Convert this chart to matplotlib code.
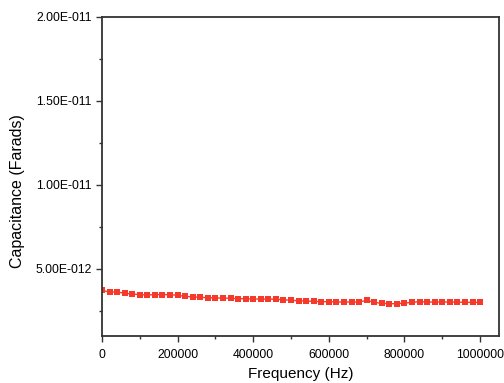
import matplotlib
matplotlib.use("Agg")
import matplotlib.pyplot as plt
from matplotlib.ticker import FuncFormatter, MultipleLocator

plt.rcParams['font.family'] = ['Liberation Sans', 'DejaVu Sans']

freq = [i * 20000 for i in range(51)]
cap_e12 = [3.71, 3.62, 3.62, 3.54, 3.50, 3.46, 3.44, 3.46, 3.46, 3.46,
           3.42, 3.36, 3.32, 3.30, 3.28, 3.26, 3.26, 3.24, 3.22, 3.22,
           3.20, 3.20, 3.20, 3.18, 3.16, 3.12, 3.10, 3.08, 3.06, 3.04,
           3.04, 3.02, 3.02, 3.02, 3.02, 3.12, 3.00, 2.94, 2.92, 2.92,
           2.96, 3.00, 3.04, 3.02, 3.02, 3.02, 3.02, 3.02, 3.00, 3.00, 3.00]
cap = [v * 1e-12 for v in cap_e12]

def sci_fmt(v, pos):
    if v == 0:
        return "0"
    s = "%.2E" % v
    mant, exp = s.split("E")
    e = int(exp)
    return "%sE%s%03d" % (mant, "-" if e < 0 else "", abs(e))

fig = plt.figure(figsize=(5.04, 3.83), dpi=100)
ax = fig.add_axes([102/504, 1 - 336/383, (499-102)/504, (336-16.5)/383])
ax.plot(freq, cap, '-', color='#F5392A', lw=1.0, marker='s', markersize=4.3,
        markeredgewidth=0, markerfacecolor='#F5392A')
ax.set_xlim(0, 1.05e6)
ax.set_ylim(1e-12, 2e-11)
ax.xaxis.set_major_locator(MultipleLocator(200000))
ax.xaxis.set_minor_locator(MultipleLocator(100000))
ax.yaxis.set_major_locator(MultipleLocator(5e-12))
ax.yaxis.set_minor_locator(MultipleLocator(2.5e-12))
ax.yaxis.set_major_formatter(FuncFormatter(sci_fmt))
ax.xaxis.set_major_formatter(FuncFormatter(lambda v, p: "%d" % v))
ax.tick_params(which='major', direction='out', length=4, width=1, labelsize=8.8,
               colors='#333333', labelcolor='black')
ax.tick_params(axis='x', which='major', pad=5)
ax.tick_params(which='minor', direction='out', length=2.5, width=1, colors='#333333')
for sp in ax.spines.values():
    sp.set_linewidth(1.3)
    sp.set_color('#333333')
ax.set_xlabel("Frequency (Hz)", fontsize=11, labelpad=5)
ax.set_ylabel("Capacitance (Farads)", fontsize=11.5, va='center')
ax.yaxis.set_label_coords(-0.2116, 0.455)
fig.savefig("out.png", dpi=100)
